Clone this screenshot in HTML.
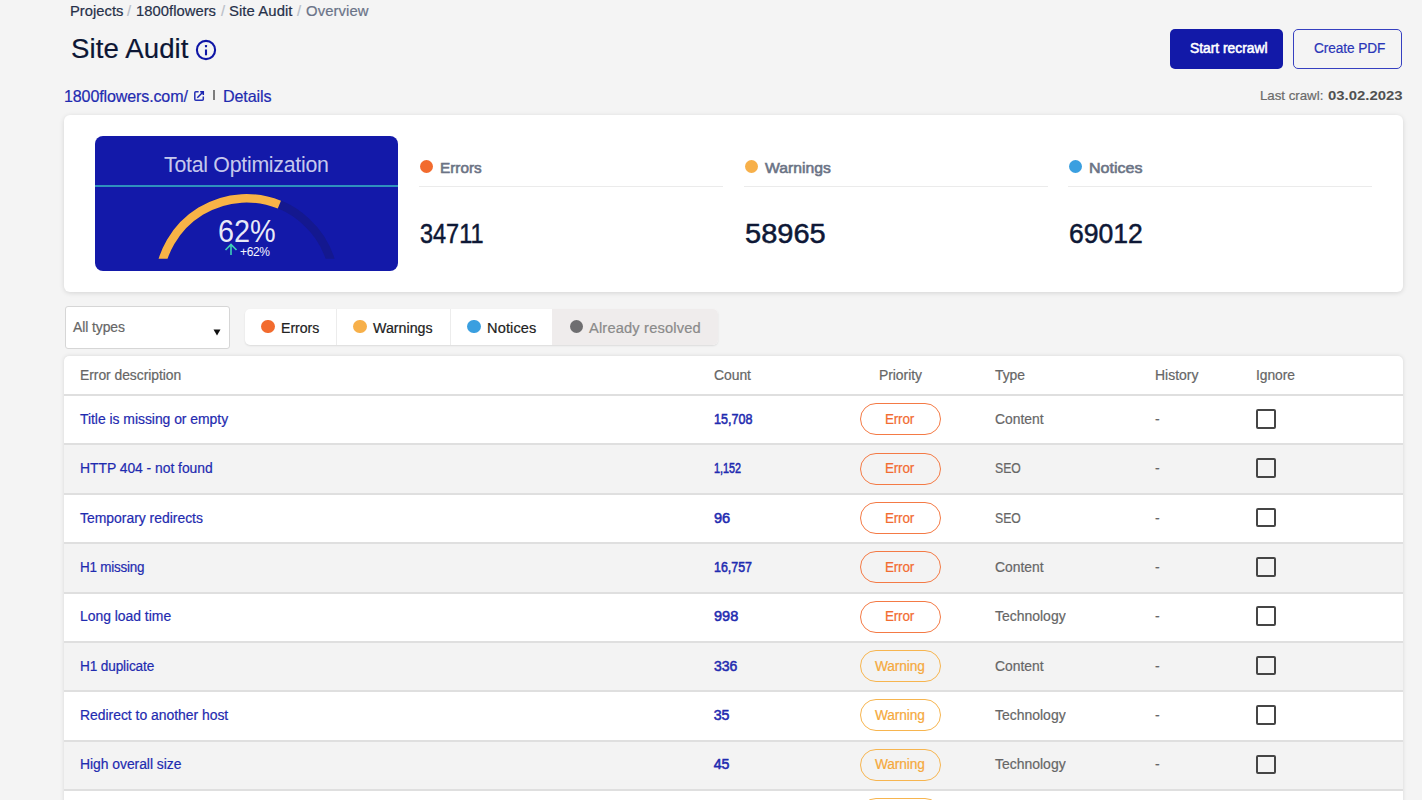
<!DOCTYPE html>
<html><head><meta charset="utf-8"><title>Site Audit</title>
<style>
*{margin:0;padding:0;box-sizing:border-box}
html,body{width:1422px;height:800px;overflow:hidden;background:#f4f4f4;font-family:"Liberation Sans",sans-serif}
.t{position:absolute;white-space:nowrap;line-height:1;-webkit-text-stroke:0.2px currentColor}
.dot{position:absolute;border-radius:50%}
.row{position:absolute;left:64px;width:1339px}
.badge{position:absolute;left:859.5px;width:81px;height:32px;border:1.2px solid;border-radius:16px}
.cb{position:absolute;width:19.5px;height:19.5px;border:2px solid #454545;border-radius:2px}
</style></head><body>
<!-- buttons -->
<div style="position:absolute;left:1170px;top:28.5px;width:113px;height:40px;background:#1219a8;border-radius:5px"></div>
<div style="position:absolute;left:1293px;top:28.5px;width:109px;height:40px;border:1.5px solid #3640c0;border-radius:5px"></div>
<!-- info icon -->
<svg style="position:absolute;left:195px;top:38.5px" width="22" height="22" viewBox="0 0 22 22">
<circle cx="11" cy="11" r="9.1" fill="none" stroke="#0f16a6" stroke-width="2.1"/>
<rect x="9.95" y="6.1" width="2.1" height="2.1" rx="0.5" fill="#0f16a6"/>
<rect x="9.95" y="10.5" width="2.1" height="5.8" fill="#0f16a6"/>
</svg>
<!-- external link icon -->
<svg style="position:absolute;left:193px;top:90px" width="12" height="12" viewBox="193 90 12 12">
<path d="M198.6 91.8H195.8Q194.8 91.8 194.8 92.8V99.3Q194.8 100.3 195.8 100.3H202.3Q203.3 100.3 203.3 99.3V96.4" fill="none" stroke="#2530b5" stroke-width="1.5"/>
<path d="M197.3 97.7L203 92M200.2 91.8H203.3V94.9" fill="none" stroke="#1a24b0" stroke-width="1.5"/>
</svg>
<div style="position:absolute;left:213.3px;top:90px;width:1.5px;height:10px;background:#7d7d7d"></div>
<!-- stats card -->
<div style="position:absolute;left:64px;top:115px;width:1339px;height:177px;background:#fff;border-radius:6px;box-shadow:0 1px 5px rgba(0,0,0,0.13)"></div>
<div style="position:absolute;left:95px;top:135.5px;width:303px;height:135.5px;background:#1319a9;border-radius:8px;overflow:hidden">
<div style="position:absolute;left:0;top:49px;width:303px;height:2px;background:#2f91bd"></div>
<svg style="position:absolute;left:0;top:0" width="303" height="136" viewBox="0 0 303 136">
<defs><clipPath id="cp"><rect x="0" y="0" width="303" height="122.8"/></clipPath></defs>
<g clip-path="url(#cp)" fill="none" stroke-width="8.5">
<path d="M64.08 142.35A87.75 87.75 0 0 1 238.92 142.35" stroke="#14188f"/>
<path d="M64.08 142.35A87.75 87.75 0 0 1 184.37 68.64" stroke="#f8b347"/>
</g>
<path d="M136 108.5v10.5M130.5 114l5.5-5.5 5.5 5.5" fill="none" stroke="#3fd0b8" stroke-width="1.6"/>
</svg>
</div>
<!-- select -->
<div style="position:absolute;left:64.5px;top:306px;width:165.5px;height:43px;background:#fff;border:1px solid #d6d6d6;border-radius:3px"></div>
<svg style="position:absolute;left:213px;top:329px" width="8" height="7" viewBox="0 0 8 7"><path d="M0.5 0.5h7L4 6.5z" fill="#111"/></svg>
<!-- tabs -->
<div style="position:absolute;left:245px;top:308.8px;width:472.5px;height:36.5px;background:#fff;border-radius:5px;box-shadow:0 1px 2px rgba(0,0,0,0.10);overflow:hidden">
<div style="position:absolute;left:91px;top:0;width:1px;height:37px;background:#ececec"></div>
<div style="position:absolute;left:204.5px;top:0;width:1px;height:37px;background:#ececec"></div>
<div style="position:absolute;left:307px;top:0;width:166px;height:37px;background:#efecec"></div>
</div>
<!-- table -->
<div style="position:absolute;left:64px;top:356px;width:1339px;height:460px;background:#dfdfdf;border-radius:5px 5px 0 0;box-shadow:0 0 4px rgba(0,0,0,0.12)"></div>
<div style="position:absolute;left:64px;top:356px;width:1339px;height:38px;background:#fff;border-radius:5px 5px 0 0"></div>
<div class="t" style="left:70.00px;top:3.51px;font-size:14.63px;color:#263049;letter-spacing:0.037px;transform:scaleX(1.0074);transform-origin:0 0;">Projects</div>
<div class="t" style="left:127.00px;top:3.51px;font-size:14.63px;color:#b9bec8;">/</div>
<div class="t" style="left:136.00px;top:3.51px;font-size:14.63px;color:#263049;letter-spacing:0.044px;transform:scaleX(1.0084);transform-origin:0 0;">1800flowers</div>
<div class="t" style="left:221.00px;top:3.51px;font-size:14.63px;color:#b9bec8;">/</div>
<div class="t" style="left:229.00px;top:3.51px;font-size:14.63px;color:#263049;letter-spacing:0.074px;transform:scaleX(1.0164);transform-origin:0 0;">Site Audit</div>
<div class="t" style="left:297.00px;top:3.51px;font-size:14.63px;color:#b9bec8;">/</div>
<div class="t" style="left:305.50px;top:3.51px;font-size:14.63px;color:#6a7388;letter-spacing:0.084px;transform:scaleX(1.0147);transform-origin:0 0;">Overview</div>
<div class="t" style="left:71.00px;top:34.61px;font-size:27.3px;color:#0c1634;letter-spacing:0.095px;transform:scaleX(1.0112);transform-origin:0 0;">Site Audit</div>
<div class="t" style="left:64.00px;top:87.50px;font-size:16.48px;color:#1f2bb0;letter-spacing:-0.142px;transform:scaleX(0.9758);transform-origin:0 0;">1800flowers.com/</div>
<div class="t" style="left:222.50px;top:87.50px;font-size:16.48px;color:#1f2bb0;letter-spacing:-0.129px;transform:scaleX(0.9775);transform-origin:0 0;">Details</div>
<div class="t" style="left:1259.60px;top:88.70px;font-size:13.39px;color:#6b6b6b;letter-spacing:-0.024px;transform:scaleX(0.9943);transform-origin:0 0;">Last crawl:</div>
<div class="t" style="left:1327.60px;top:88.70px;font-size:13.39px;color:#505050;font-weight:bold;-webkit-text-stroke:0;transform:scaleX(1.1146);transform-origin:0 0;">03.02.2023</div>
<div class="t" style="left:1189.50px;top:41.71px;font-size:13.91px;color:#ffffff;letter-spacing:-0.019px;transform:scaleX(0.9956);transform-origin:0 0;-webkit-text-stroke:0.55px #fff;">Start recrawl</div>
<div class="t" style="left:1314.00px;top:41.91px;font-size:13.91px;color:#2a36b8;letter-spacing:-0.092px;transform:scaleX(0.9833);transform-origin:0 0;font-weight:500;">Create PDF</div>
<div class="t" style="left:163.80px;top:154.40px;font-size:22.14px;color:rgba(230,233,250,0.86);letter-spacing:-0.268px;transform:scaleX(0.9626);transform-origin:0 0;-webkit-text-stroke:0;">Total Optimization</div>
<div class="t" style="left:217.70px;top:215.81px;font-size:31.62px;color:rgba(255,255,255,0.92);transform:scaleX(0.9128);transform-origin:0 0;-webkit-text-stroke:0;">62%</div>
<div class="t" style="left:240.00px;top:246.31px;font-size:12.67px;color:#f4f5ff;letter-spacing:-0.386px;transform:scaleX(0.9496);transform-origin:0 0;-webkit-text-stroke:0;">+62%</div>
<div class="dot" style="left:419.5px;top:159.5px;width:13px;height:13px;background:#f26b2e"></div>
<div class="t" style="left:439.50px;top:159.70px;font-size:15.45px;color:#6b7385;transform:scaleX(0.9914);transform-origin:0 0;-webkit-text-stroke:0.6px #6b7385;">Errors</div>
<div style="position:absolute;left:419px;top:186px;width:304px;height:1px;background:#ebebeb"></div>
<div class="t" style="left:419.50px;top:220.71px;font-size:26.78px;color:#0e1836;transform:scaleX(0.8772);transform-origin:0 0;-webkit-text-stroke:0.5px #0e1836;">34711</div>
<div class="dot" style="left:744.5px;top:159.5px;width:13px;height:13px;background:#f7b04a"></div>
<div class="t" style="left:764.50px;top:159.70px;font-size:15.45px;color:#6b7385;transform:scaleX(1.0186);transform-origin:0 0;-webkit-text-stroke:0.6px #6b7385;">Warnings</div>
<div style="position:absolute;left:744px;top:186px;width:304px;height:1px;background:#ebebeb"></div>
<div class="t" style="left:744.50px;top:220.71px;font-size:26.78px;color:#0e1836;transform:scaleX(1.0840);transform-origin:0 0;-webkit-text-stroke:0.5px #0e1836;">58965</div>
<div class="dot" style="left:1068.5px;top:159.5px;width:13px;height:13px;background:#3a9fe0"></div>
<div class="t" style="left:1088.50px;top:159.70px;font-size:15.45px;color:#6b7385;transform:scaleX(1.0403);transform-origin:0 0;-webkit-text-stroke:0.6px #6b7385;">Notices</div>
<div style="position:absolute;left:1068px;top:186px;width:304px;height:1px;background:#ebebeb"></div>
<div class="t" style="left:1068.50px;top:220.71px;font-size:26.78px;color:#0e1836;transform:scaleX(0.9926);transform-origin:0 0;-webkit-text-stroke:0.5px #0e1836;">69012</div>
<div class="t" style="left:73.30px;top:320.31px;font-size:14.21px;color:#666666;letter-spacing:-0.087px;transform:scaleX(0.9809);transform-origin:0 0;">All types</div>
<div class="dot" style="left:261.25px;top:319.75px;width:13.5px;height:13.5px;background:#f26b2e"></div>
<div class="t" style="left:281.00px;top:321.00px;font-size:14.21px;color:#222;letter-spacing:-0.031px;transform:scaleX(0.9940);transform-origin:0 0;">Errors</div>
<div class="dot" style="left:353.45px;top:319.75px;width:13.5px;height:13.5px;background:#f7b04a"></div>
<div class="t" style="left:373.30px;top:321.00px;font-size:14.21px;color:#222;letter-spacing:0.011px;transform:scaleX(1.0020);transform-origin:0 0;">Warnings</div>
<div class="dot" style="left:467.25px;top:319.75px;width:13.5px;height:13.5px;background:#3a9fe0"></div>
<div class="t" style="left:486.50px;top:321.00px;font-size:14.21px;color:#222;letter-spacing:0.131px;transform:scaleX(1.0254);transform-origin:0 0;">Notices</div>
<div class="dot" style="left:569.95px;top:319.75px;width:13.5px;height:13.5px;background:#6e6e70"></div>
<div class="t" style="left:589.30px;top:321.00px;font-size:14.21px;color:#8a8a8a;letter-spacing:0.152px;transform:scaleX(1.0333);transform-origin:0 0;">Already resolved</div>
<div class="t" style="left:80.40px;top:367.50px;font-size:14.01px;color:#666;letter-spacing:-0.037px;transform:scaleX(0.9915);transform-origin:0 0;">Error description</div>
<div class="t" style="left:713.50px;top:367.50px;font-size:14.01px;color:#666;letter-spacing:-0.037px;transform:scaleX(0.9940);transform-origin:0 0;">Count</div>
<div class="t" style="left:879.00px;top:367.50px;font-size:14.01px;color:#666;letter-spacing:-0.035px;transform:scaleX(0.9917);transform-origin:0 0;">Priority</div>
<div class="t" style="left:994.50px;top:367.50px;font-size:14.01px;color:#666;letter-spacing:-0.049px;transform:scaleX(0.9928);transform-origin:0 0;">Type</div>
<div class="t" style="left:1155.00px;top:367.50px;font-size:14.01px;color:#666;letter-spacing:-0.007px;transform:scaleX(0.9985);transform-origin:0 0;">History</div>
<div class="t" style="left:1256.00px;top:367.50px;font-size:14.01px;color:#666;letter-spacing:-0.058px;transform:scaleX(0.9891);transform-origin:0 0;">Ignore</div>
<div class="row" style="top:396px;height:47px;background:#ffffff"></div>
<div class="t" style="left:80.40px;top:411.91px;font-size:14.01px;color:#1f2bb0;letter-spacing:-0.026px;transform:scaleX(0.9939);transform-origin:0 0;">Title is missing or empty</div>
<div class="t" style="left:713.70px;top:411.91px;font-size:14.21px;color:#1f2bb0;transform:scaleX(0.8838);transform-origin:0 0;-webkit-text-stroke:0.55px #1f2bb0;">15,708</div>
<div class="t" style="left:994.60px;top:411.91px;font-size:14.01px;color:#666;transform:scaleX(0.9904);transform-origin:0 0;">Content</div>
<div class="t" style="left:1155.00px;top:411.91px;font-size:14.01px;color:#666;">-</div>
<div class="cb" style="left:1256.3px;top:409.00px"></div>
<div class="badge" style="top:403.20px;border-color:#f47a45"></div>
<div class="t" style="left:885.40px;top:411.91px;font-size:14.01px;color:#f26b30;letter-spacing:-0.201px;transform:scaleX(0.9627);transform-origin:0 0;">Error</div>
<div class="row" style="top:445px;height:48px;background:#f3f3f3"></div>
<div class="t" style="left:80.40px;top:461.27px;font-size:14.01px;color:#1f2bb0;letter-spacing:-0.035px;transform:scaleX(0.9926);transform-origin:0 0;">HTTP 404 - not found</div>
<div class="t" style="left:713.70px;top:461.27px;font-size:14.21px;color:#1f2bb0;transform:scaleX(0.7593);transform-origin:0 0;-webkit-text-stroke:0.55px #1f2bb0;">1,152</div>
<div class="t" style="left:994.60px;top:461.27px;font-size:14.01px;color:#666;transform:scaleX(0.8717);transform-origin:0 0;">SEO</div>
<div class="t" style="left:1155.00px;top:461.27px;font-size:14.01px;color:#666;">-</div>
<div class="cb" style="left:1256.3px;top:458.36px"></div>
<div class="badge" style="top:452.56px;border-color:#f47a45"></div>
<div class="t" style="left:885.40px;top:461.27px;font-size:14.01px;color:#f26b30;letter-spacing:-0.201px;transform:scaleX(0.9627);transform-origin:0 0;">Error</div>
<div class="row" style="top:495px;height:47px;background:#ffffff"></div>
<div class="t" style="left:80.40px;top:510.63px;font-size:14.01px;color:#1f2bb0;letter-spacing:-0.017px;transform:scaleX(0.9962);transform-origin:0 0;">Temporary redirects</div>
<div class="t" style="left:713.70px;top:510.63px;font-size:14.21px;color:#1f2bb0;transform:scaleX(1.0279);transform-origin:0 0;-webkit-text-stroke:0.55px #1f2bb0;">96</div>
<div class="t" style="left:994.60px;top:510.63px;font-size:14.01px;color:#666;transform:scaleX(0.8717);transform-origin:0 0;">SEO</div>
<div class="t" style="left:1155.00px;top:510.63px;font-size:14.01px;color:#666;">-</div>
<div class="cb" style="left:1256.3px;top:507.72px"></div>
<div class="badge" style="top:501.92px;border-color:#f47a45"></div>
<div class="t" style="left:885.40px;top:510.63px;font-size:14.01px;color:#f26b30;letter-spacing:-0.201px;transform:scaleX(0.9627);transform-origin:0 0;">Error</div>
<div class="row" style="top:544px;height:48px;background:#f3f3f3"></div>
<div class="t" style="left:80.40px;top:559.99px;font-size:14.01px;color:#1f2bb0;letter-spacing:-0.217px;transform:scaleX(0.9595);transform-origin:0 0;">H1 missing</div>
<div class="t" style="left:713.70px;top:560.00px;font-size:14.21px;color:#1f2bb0;transform:scaleX(0.8746);transform-origin:0 0;-webkit-text-stroke:0.55px #1f2bb0;">16,757</div>
<div class="t" style="left:994.60px;top:559.99px;font-size:14.01px;color:#666;transform:scaleX(0.9904);transform-origin:0 0;">Content</div>
<div class="t" style="left:1155.00px;top:559.99px;font-size:14.01px;color:#666;">-</div>
<div class="cb" style="left:1256.3px;top:557.08px"></div>
<div class="badge" style="top:551.28px;border-color:#f47a45"></div>
<div class="t" style="left:885.40px;top:559.99px;font-size:14.01px;color:#f26b30;letter-spacing:-0.201px;transform:scaleX(0.9627);transform-origin:0 0;">Error</div>
<div class="row" style="top:594px;height:47px;background:#ffffff"></div>
<div class="t" style="left:80.40px;top:609.36px;font-size:14.01px;color:#1f2bb0;letter-spacing:-0.022px;transform:scaleX(0.9954);transform-origin:0 0;">Long load time</div>
<div class="t" style="left:713.70px;top:609.34px;font-size:14.21px;color:#1f2bb0;transform:scaleX(1.0234);transform-origin:0 0;-webkit-text-stroke:0.55px #1f2bb0;">998</div>
<div class="t" style="left:994.60px;top:609.36px;font-size:14.01px;color:#666;transform:scaleX(0.9973);transform-origin:0 0;">Technology</div>
<div class="t" style="left:1155.00px;top:609.36px;font-size:14.01px;color:#666;">-</div>
<div class="cb" style="left:1256.3px;top:606.44px"></div>
<div class="badge" style="top:600.64px;border-color:#f47a45"></div>
<div class="t" style="left:885.40px;top:609.36px;font-size:14.01px;color:#f26b30;letter-spacing:-0.201px;transform:scaleX(0.9627);transform-origin:0 0;">Error</div>
<div class="row" style="top:643px;height:47px;background:#f3f3f3"></div>
<div class="t" style="left:80.40px;top:658.70px;font-size:14.01px;color:#1f2bb0;letter-spacing:-0.134px;transform:scaleX(0.9723);transform-origin:0 0;">H1 duplicate</div>
<div class="t" style="left:713.70px;top:658.71px;font-size:14.21px;color:#1f2bb0;transform:scaleX(0.9875);transform-origin:0 0;-webkit-text-stroke:0.55px #1f2bb0;">336</div>
<div class="t" style="left:994.60px;top:658.70px;font-size:14.01px;color:#666;transform:scaleX(0.9904);transform-origin:0 0;">Content</div>
<div class="t" style="left:1155.00px;top:658.70px;font-size:14.01px;color:#666;">-</div>
<div class="cb" style="left:1256.3px;top:655.80px"></div>
<div class="badge" style="top:650.00px;border-color:#f7b54f"></div>
<div class="t" style="left:875.00px;top:658.70px;font-size:14.01px;color:#f5a93c;letter-spacing:-0.113px;transform:scaleX(0.9807);transform-origin:0 0;">Warning</div>
<div class="row" style="top:692px;height:48px;background:#ffffff"></div>
<div class="t" style="left:80.40px;top:708.07px;font-size:14.01px;color:#1f2bb0;letter-spacing:-0.021px;transform:scaleX(0.9951);transform-origin:0 0;">Redirect to another host</div>
<div class="t" style="left:713.70px;top:708.07px;font-size:14.21px;color:#1f2bb0;-webkit-text-stroke:0.55px #1f2bb0;">35</div>
<div class="t" style="left:994.60px;top:708.07px;font-size:14.01px;color:#666;transform:scaleX(0.9973);transform-origin:0 0;">Technology</div>
<div class="t" style="left:1155.00px;top:708.07px;font-size:14.01px;color:#666;">-</div>
<div class="cb" style="left:1256.3px;top:705.16px"></div>
<div class="badge" style="top:699.36px;border-color:#f7b54f"></div>
<div class="t" style="left:875.00px;top:708.07px;font-size:14.01px;color:#f5a93c;letter-spacing:-0.113px;transform:scaleX(0.9807);transform-origin:0 0;">Warning</div>
<div class="row" style="top:742px;height:47px;background:#f3f3f3"></div>
<div class="t" style="left:80.40px;top:757.43px;font-size:14.01px;color:#1f2bb0;letter-spacing:-0.033px;transform:scaleX(0.9924);transform-origin:0 0;">High overall size</div>
<div class="t" style="left:713.70px;top:757.43px;font-size:14.21px;color:#1f2bb0;-webkit-text-stroke:0.55px #1f2bb0;">45</div>
<div class="t" style="left:994.60px;top:757.43px;font-size:14.01px;color:#666;transform:scaleX(0.9973);transform-origin:0 0;">Technology</div>
<div class="t" style="left:1155.00px;top:757.43px;font-size:14.01px;color:#666;">-</div>
<div class="cb" style="left:1256.3px;top:754.52px"></div>
<div class="badge" style="top:748.72px;border-color:#f7b54f"></div>
<div class="t" style="left:875.00px;top:757.43px;font-size:14.01px;color:#f5a93c;letter-spacing:-0.113px;transform:scaleX(0.9807);transform-origin:0 0;">Warning</div>
<div class="row" style="top:791px;height:47px;background:#ffffff"></div>
<div class="badge" style="top:798.08px;border-color:#f7b54f"></div>
<div class="t" style="left:875.00px;top:806.79px;font-size:14.01px;color:#f5a93c;letter-spacing:-0.113px;transform:scaleX(0.9807);transform-origin:0 0;">Warning</div>

</body></html>
